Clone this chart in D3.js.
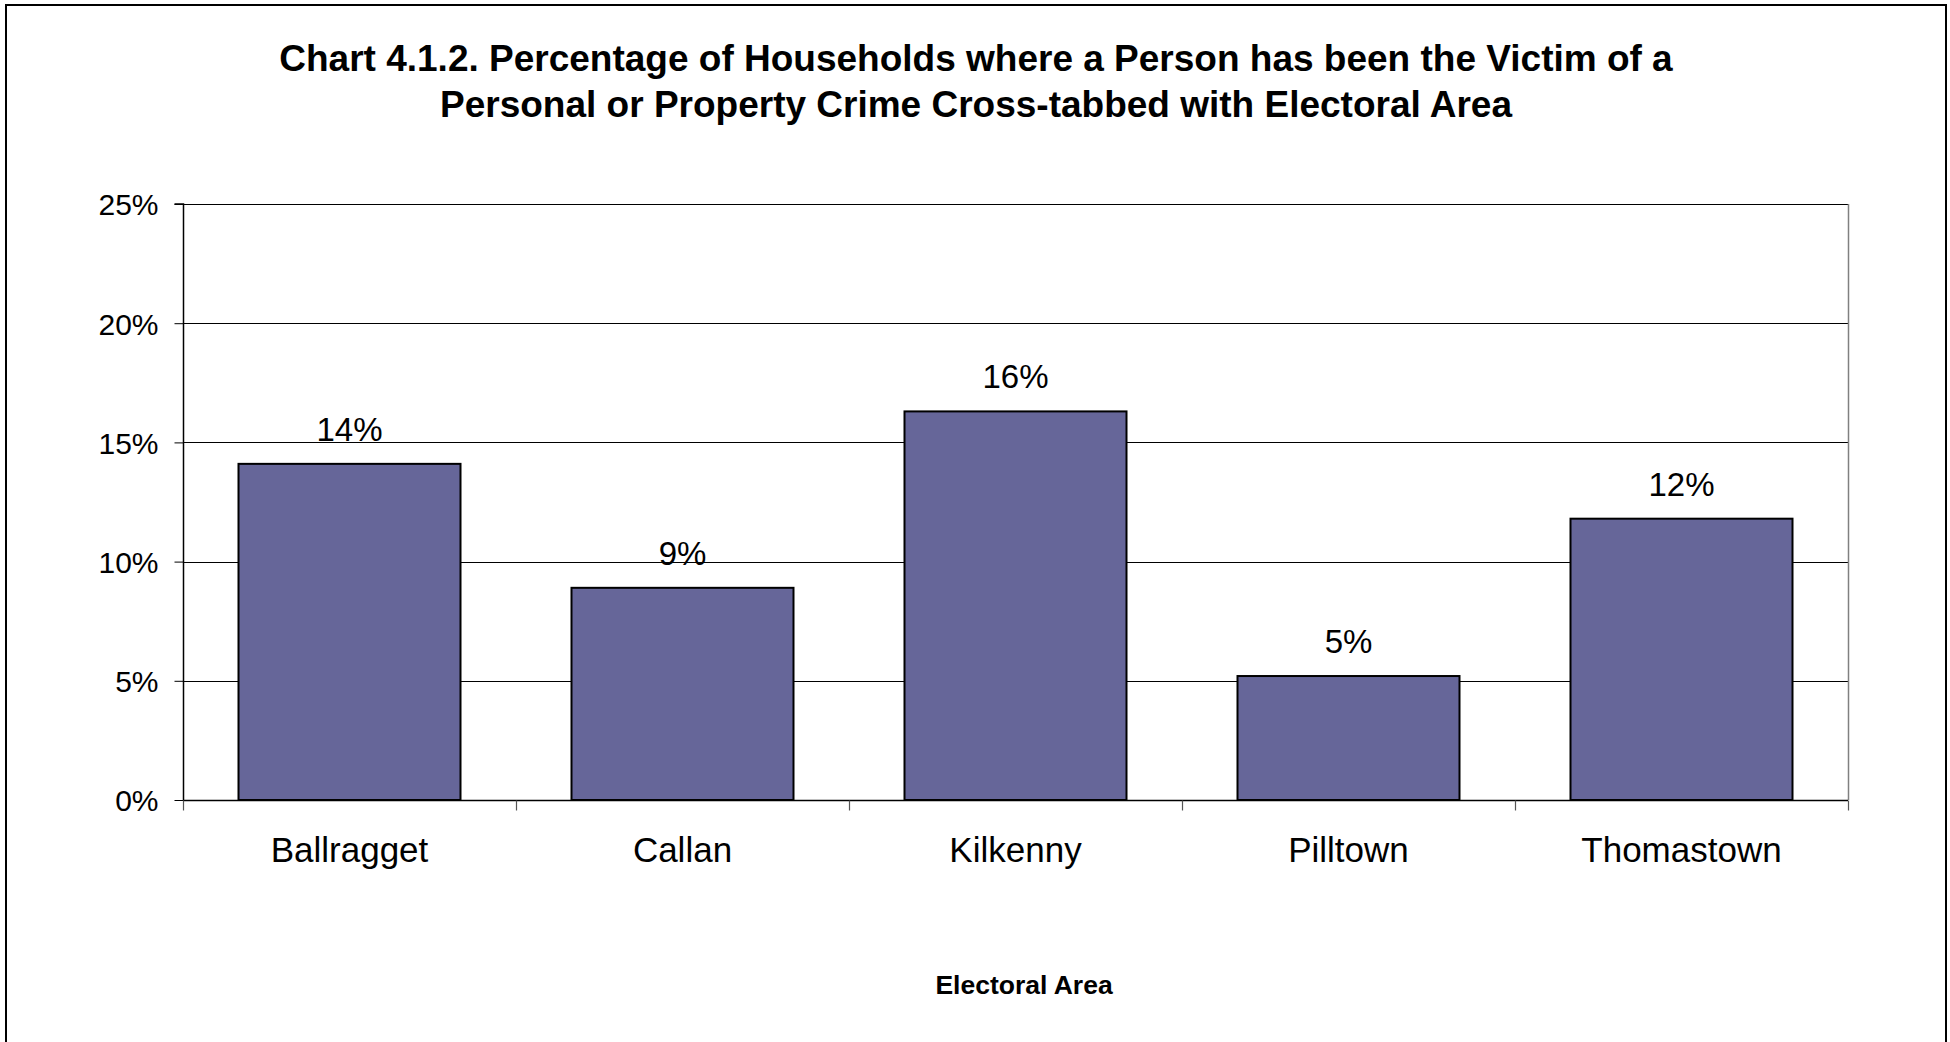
<!DOCTYPE html>
<html>
<head>
<meta charset="utf-8">
<script src="https://cdn.jsdelivr.net/npm/d3@7"></script>
<style>
  html, body { margin: 0; padding: 0; background: #fff; }
  svg { display: block; font-family: "Liberation Sans", Arial, sans-serif; }
</style>
</head>
<body>
<svg id="chart" width="1950" height="1042"></svg>
<script>
// ---- Data ----
const categories = ["Ballragget", "Callan", "Kilkenny", "Pilltown", "Thomastown"];
const values = [14.1, 8.9, 16.3, 5.2, 11.8];
const valueLabels = ["14%", "9%", "16%", "5%", "12%"];
const yTicks = [0, 5, 10, 15, 20, 25];
const yTickLabels = ["0%", "5%", "10%", "15%", "20%", "25%"];
const titleLines = [
  "Chart 4.1.2. Percentage of Households where a Person has been the Victim of a",
  "Personal or Property Crime Cross-tabbed with Electoral Area"
];
const xAxisTitle = "Electoral Area";

// ---- Layout ----
const W = 1950, H = 1042;
const plot = { left: 183, right: 1848, top: 204, bottom: 800 };

const svg = d3.select("#chart");

// outer frame
svg.append("rect")
  .attr("x", 6).attr("y", 5)
  .attr("width", 1940).attr("height", H + 10)
  .attr("fill", "#fff").attr("stroke", "#000").attr("stroke-width", 2);

const x = d3.scaleBand()
  .domain(categories)
  .range([plot.left, plot.right])
  .paddingInner(1/3).paddingOuter(1/6);

const xOuter = d3.scaleBand()
  .domain(categories)
  .range([plot.left, plot.right])
  .padding(0);

const y = d3.scaleLinear().domain([0, 25]).range([plot.bottom, plot.top]);

// gridlines
svg.append("g")
  .selectAll("line")
  .data(yTicks.filter(d => d > 0))
  .join("line")
  .attr("x1", plot.left).attr("x2", plot.right)
  .attr("y1", d => Math.round(y(d)) + 0.5).attr("y2", d => Math.round(y(d)) + 0.5)
  .attr("stroke", "#000").attr("stroke-width", 1);

// right plot border (grey)
svg.append("line")
  .attr("x1", plot.right + 0.5).attr("x2", plot.right + 0.5)
  .attr("y1", plot.top).attr("y2", plot.bottom)
  .attr("stroke", "#808080").attr("stroke-width", 1.5);

// bars
svg.append("g")
  .selectAll("rect")
  .data(values)
  .join("rect")
  .attr("x", (d, i) => x(categories[i]))
  .attr("width", x.bandwidth())
  .attr("y", d => y(d))
  .attr("height", d => y(0) - y(d))
  .attr("fill", "#666699")
  .attr("stroke", "#000")
  .attr("stroke-width", 2);

// value labels
svg.append("g")
  .selectAll("text")
  .data(values)
  .join("text")
  .attr("x", (d, i) => x(categories[i]) + x.bandwidth() / 2)
  .attr("y", d => y(d) - 23)
  .attr("text-anchor", "middle")
  .attr("font-size", 33)
  .attr("fill", "#000")
  .text((d, i) => valueLabels[i]);

// y axis
const yAxis = d3.axisLeft(y)
  .tickValues(yTicks)
  .tickFormat((d, i) => yTickLabels[i])
  .tickSize(9)
  .tickPadding(16);
const gy = svg.append("g")
  .attr("transform", `translate(${plot.left + 0.5},0)`)
  .call(yAxis);
gy.select(".domain").attr("stroke", "#000").attr("stroke-width", 1.5)
  .attr("d", `M-9,${plot.top}H0V${plot.bottom}`);
gy.selectAll(".tick line").attr("stroke", "#000").attr("stroke-width", 1);
gy.selectAll(".tick text")
  .attr("font-size", 30)
  .attr("font-family", "Liberation Sans, Arial, sans-serif")
  .attr("fill", "#000")
  .attr("dy", "0.36em");

// x axis
const gx = svg.append("g")
  .attr("transform", `translate(0,${plot.bottom + 0.5})`);
gx.append("line")
  .attr("x1", plot.left).attr("x2", plot.right)
  .attr("y1", 0).attr("y2", 0)
  .attr("stroke", "#000").attr("stroke-width", 1.5);
const boundaries = categories.map(c => xOuter(c)).concat([plot.right]);
gx.selectAll("line.tick")
  .data(boundaries)
  .join("line")
  .attr("class", "tick")
  .attr("x1", d => Math.round(d) + 0.5).attr("x2", d => Math.round(d) + 0.5)
  .attr("y1", 0).attr("y2", 10)
  .attr("stroke", "#555").attr("stroke-width", 1.2);
gx.selectAll("text")
  .data(categories)
  .join("text")
  .attr("x", d => x(d) + x.bandwidth() / 2)
  .attr("y", 61)
  .attr("text-anchor", "middle")
  .attr("font-size", 35)
  .attr("fill", "#000")
  .text(d => d);

// title
svg.append("g")
  .selectAll("text")
  .data(titleLines)
  .join("text")
  .attr("x", 976)
  .attr("y", (d, i) => 71 + i * 46)
  .attr("text-anchor", "middle")
  .attr("font-size", 37)
  .attr("font-weight", "bold")
  .attr("fill", "#000")
  .text(d => d);

// x axis title
svg.append("text")
  .attr("x", 1024)
  .attr("y", 994)
  .attr("text-anchor", "middle")
  .attr("font-size", 26.5)
  .attr("font-weight", "bold")
  .attr("fill", "#000")
  .text(xAxisTitle);
</script>
</body>
</html>
